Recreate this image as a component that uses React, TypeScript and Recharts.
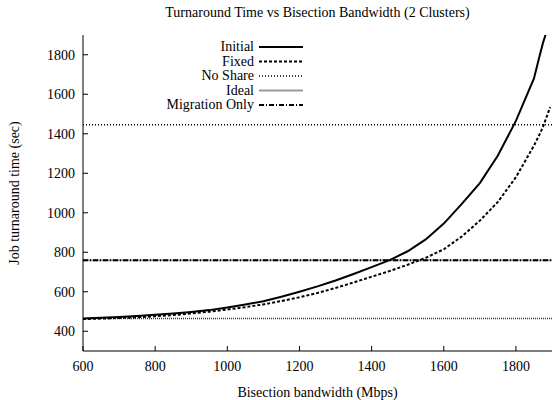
import React from 'react';
import { LineChart, Line, XAxis, YAxis, ReferenceLine, Label } from 'recharts';

const FONT = 'Liberation Serif, Times New Roman, serif';

// Bisection bandwidth (Mbps) sample points
const bandwidth = [600, 650, 700, 750, 800, 850, 900, 950, 1000, 1050, 1100, 1150, 1200, 1250, 1300, 1350, 1400, 1450, 1500, 1550, 1600, 1650, 1700, 1750, 1800, 1850, 1865, 1875, 1882, 1895];
const initial = [465, 468, 472, 477, 483, 490, 498, 507, 520, 535, 552, 575, 600, 627, 657, 690, 725, 760, 805, 865, 945, 1045, 1150, 1290, 1465, 1680, 1790, 1860, 1900, null];
const fixed = [462, 464, 467, 471, 476, 482, 490, 499, 510, 522, 536, 553, 572, 594, 619, 647, 676, 705, 737, 772, 815, 880, 960, 1055, 1180, 1340, 1395, 1435, 1470, 1535];

// flat reference series
const noShare = 1445;
const ideal = 465;
const migrationOnly = 760;

const xTicks = [600, 800, 1000, 1200, 1400, 1600, 1800];
const yTicks = [400, 600, 800, 1000, 1200, 1400, 1600, 1800];

const data = bandwidth.map((b, i) => ({ bw: b, initial: initial[i], fixed: fixed[i] }));

const legendItems = [
  { name: 'Initial', stroke: '#000', width: 2, dash: undefined },
  { name: 'Fixed', stroke: '#000', width: 2, dash: '3 2' },
  { name: 'No Share', stroke: '#000', width: 1.5, dash: '1 2' },
  { name: 'Ideal', stroke: '#999', width: 2, dash: undefined },
  { name: 'Migration Only', stroke: '#000', width: 2, dash: '5 2 1 2' },
];

const textStyle = { fill: '#000', fontFamily: FONT, fontSize: 14 };

const KeyBox = () => (
  <svg width={200} height={80} style={{ display: 'block', fontFamily: FONT }}>
    {legendItems.map((it, i) => (
      <g key={it.name}>
        <text x={150} y={i * 14.5 + 8} textAnchor="end" dominantBaseline="middle" style={textStyle}>
          {it.name}
        </text>
        <line x1={155} x2={199} y1={i * 14.5 + 7} y2={i * 14.5 + 7} stroke={it.stroke} strokeWidth={it.width} strokeDasharray={it.dash} />
      </g>
    ))}
  </svg>
);

export default function App() {
  return (
    <div style={{ position: 'absolute', left: 0, top: 0, width: 552, height: 400, background: '#fff', fontFamily: FONT }}>
      <div style={{ position: 'absolute', left: 83, width: 469, top: 5, textAlign: 'center', whiteSpace: 'nowrap', fontFamily: FONT, fontSize: 14 }}>
        Turnaround Time vs Bisection Bandwidth (2 Clusters)
      </div>
      <LineChart width={552} height={400} data={data} margin={{ top: 35, right: 0, left: 0, bottom: 0 }} style={{ fontFamily: FONT }}>
        <XAxis
          dataKey="bw"
          type="number"
          domain={[600, 1900]}
          ticks={xTicks}
          height={49}
          tickSize={-5}
          tickMargin={15}
          stroke="#000"
          tick={textStyle}
          allowDataOverflow
        >
          <Label value="Bisection bandwidth (Mbps)" position="insideBottom" offset={3} style={textStyle} />
        </XAxis>
        <XAxis xAxisId="top" orientation="top" dataKey="bw" type="number" domain={[600, 1900]} ticks={xTicks} height={0} tickSize={-5} tick={false} stroke="#000" allowDataOverflow />
        <YAxis
          type="number"
          domain={[300, 1900]}
          ticks={yTicks}
          width={83}
          tickSize={-5}
          tickMargin={13}
          stroke="#000"
          tick={textStyle}
          allowDataOverflow
        >
          <Label value="Job turnaround time (sec)" angle={-90} position="insideLeft" offset={14} style={{ ...textStyle, textAnchor: 'middle' }} />
        </YAxis>
        <YAxis yAxisId="right" orientation="right" type="number" domain={[300, 1900]} ticks={yTicks} width={0} tickSize={-5} tick={false} stroke="#000" allowDataOverflow />
        <ReferenceLine y={ideal} stroke="#333" strokeWidth={1.5} strokeDasharray="1 1" />
        <ReferenceLine y={migrationOnly} stroke="#999" strokeWidth={2} />
        <ReferenceLine y={migrationOnly} stroke="#000" strokeWidth={2} strokeDasharray="5 2 1 2" />
        <ReferenceLine y={noShare} stroke="#000" strokeWidth={1.5} strokeDasharray="1 2" />
        <Line type="linear" dataKey="fixed" stroke="#000" strokeWidth={2} strokeDasharray="3 2" dot={false} isAnimationActive={false} connectNulls={false} />
        <Line type="linear" dataKey="initial" stroke="#000" strokeWidth={2} dot={false} isAnimationActive={false} connectNulls={false} />
      </LineChart>
      <div style={{ position: 'absolute', left: 104, top: 40 }}>
        <KeyBox />
      </div>
    </div>
  );
}
